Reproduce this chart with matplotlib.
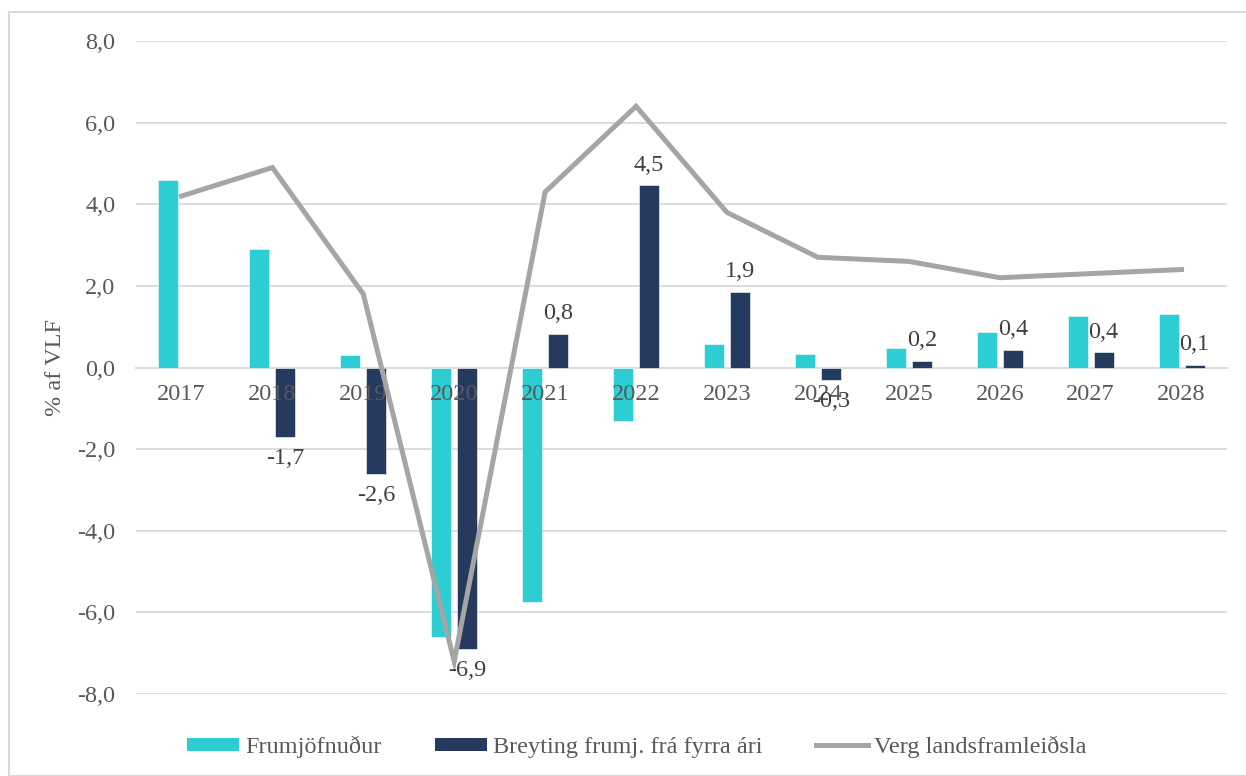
import numpy as np
import matplotlib
matplotlib.use("Agg")
import matplotlib.pyplot as plt
from matplotlib.patches import Rectangle
from matplotlib.lines import Line2D
from matplotlib.patches import Patch

plt.rcParams['font.family'] = ['Liberation Serif', 'DejaVu Serif']

years = ['2017', '2018', '2019', '2020', '2021', '2022', '2023', '2024', '2025', '2026', '2027', '2028']
frumjofnudur = [4.6, 2.9, 0.3, -6.6, -5.75, -1.3, 0.57, 0.32, 0.47, 0.88, 1.25, 1.32]
breyting = [np.nan, -1.7, -2.6, -6.9, 0.83, 4.46, 1.86, -0.3, 0.17, 0.43, 0.37, 0.07]
breyting_labels = ['', '-1,7', '-2,6', '-6,9', '0,8', '4,5', '1,9', '-0,3', '0,2', '0,4', '0,4', '0,1']
vlf = [4.2, 4.9, 1.8, -7.2, 4.3, 6.4, 3.8, 2.7, 2.6, 2.2, 2.3, 2.4]
yticks = [-8, -6, -4, -2, 0, 2, 4, 6, 8]
ytick_labels = ['-8,0', '-6,0', '-4,0', '-2,0', '0,0', '2,0', '4,0', '6,0', '8,0']

C_CYAN = '#2ccdd3'
C_DARK = '#253a5e'
C_GRAY = '#a5a5a5'
C_TXT = '#595959'
FS = 17.5

fig = plt.figure(figsize=(12.46, 7.76), dpi=100)
fig.patches.append(Rectangle((9/1246, 0), 1.2, 1 - 12/776, transform=fig.transFigure,
                             fill=False, edgecolor='#d9d9d9', linewidth=1.5, zorder=0))
ax = fig.add_axes([136/1246, 1 - 694/776, (1227-136)/1246, (694-41)/776])

x = np.arange(len(years))
w = 0.22
off = 0.143

for yv in yticks:
    if yv != 0:
        ax.axhline(yv, color='#d9d9d9', linewidth=1.3, zorder=0)

ax.bar(x - off, frumjofnudur, width=w, color=C_CYAN, edgecolor='white', linewidth=0.4, zorder=1)
ax.bar(x + off, breyting, width=w, color=C_DARK, edgecolor='white', linewidth=0.4, zorder=1)
ax.plot(x, vlf, color=C_GRAY, linewidth=3.6, solid_joinstyle='miter', zorder=3)

for i, (v, lab) in enumerate(zip(breyting, breyting_labels)):
    if lab == '' or np.isnan(v):
        continue
    if v >= 0:
        ax.annotate(lab, (x[i] + off, v), xytext=(0, 7), textcoords='offset points',
                    ha='center', va='bottom', fontsize=FS, color='#404040', zorder=4)
    else:
        ax.annotate(lab, (x[i] + off, v), xytext=(0, -8), textcoords='offset points',
                    ha='center', va='top', fontsize=FS, color='#404040', zorder=4)

ax.set_xlim(-0.5, len(years) - 0.5)
ax.set_ylim(-8, 8)
ax.set_yticks(yticks)
ax.set_yticklabels(ytick_labels)
ax.set_xticks(x)
ax.set_xticklabels(years)

for s in ['top', 'right', 'left']:
    ax.spines[s].set_visible(False)
ax.spines['bottom'].set_position(('data', 0))
ax.spines['bottom'].set_color('#d9d9d9')
ax.spines['bottom'].set_linewidth(1.3)
ax.spines['bottom'].set_zorder(0.5)
ax.tick_params(axis='both', length=0, labelsize=FS, labelcolor=C_TXT)
ax.tick_params(axis='x', pad=12)
ax.tick_params(axis='y', pad=15)
ax.set_axisbelow('line')
ax.set_ylabel('% af VLF', fontsize=FS, color=C_TXT, labelpad=8)

handles = [Patch(facecolor=C_CYAN, edgecolor='none'),
           Patch(facecolor=C_DARK, edgecolor='none'),
           Line2D([0], [0], color=C_GRAY, linewidth=3.6)]
labels = ['Frumjöfnuður', 'Breyting frumj. frá fyrra ári', 'Verg landsframleiðsla']
leg = fig.legend(handles, labels, loc='center', bbox_to_anchor=(0.511, 1 - 747/776), ncol=3,
                 frameon=False, fontsize=17.5, handlelength=2.15, handleheight=0.5,
                 handletextpad=0.25, columnspacing=2.2, labelcolor=C_TXT)

fig.savefig('out.png', dpi=100)
